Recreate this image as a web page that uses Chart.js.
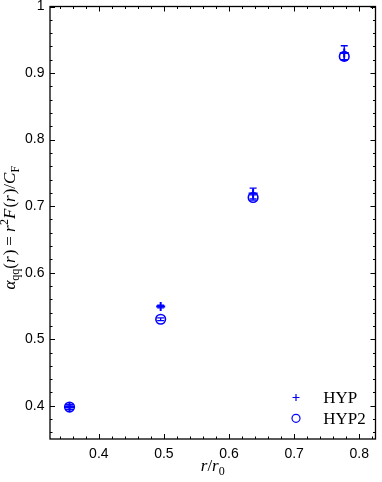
<!DOCTYPE html>
<html>
<head>
<meta charset="utf-8">
<script src="https://cdn.jsdelivr.net/npm/chart.js@4.4.0/dist/chart.umd.min.js"></script>
<style>
html,body{margin:0;padding:0;background:#fff;}
canvas{display:block;}
</style>
</head>
<body>
<canvas id="c" width="382" height="482"></canvas>
<script>
// ---- data ----
const xVals   = [0.355, 0.495, 0.637, 0.777];
const hypY    = [0.398, 0.549, 0.719, 0.930];
const hypErr  = [0.004, 0.002, 0.008, 0.011];
const hyp2Y   = [0.398, 0.530, 0.713, 0.925];
const hyp2Err = [0.003, 0.002, 0.004, 0.005];
const xTicks  = [0.4, 0.5, 0.6, 0.7, 0.8];
const yTicks  = [0.4, 0.5, 0.6, 0.7, 0.8, 0.9, 1];
const seriesNames = ['HYP', 'HYP2'];
const xRange = [0.325, 0.825];
const yRange = [0.35, 1.0];
const minorStep = 0.02;

const BLUE = '#0000ff';
const SERIF = '"Liberation Serif", "DejaVu Serif", serif';
const SANS = '"Liberation Sans", Arial, sans-serif';

function pts(ys){ return xVals.map((x,i)=>({x:x, y:ys[i]})); }

function drawRich(ctx, pieces, x, y){
  let w = 0;
  pieces.forEach(p=>{ ctx.font = p.f; w += ctx.measureText(p.t).width + (p.gap||0); });
  let cx = x - w/2;
  ctx.textBaseline = 'alphabetic';
  ctx.textAlign = 'left';
  pieces.forEach(p=>{
    ctx.font = p.f;
    ctx.fillText(p.t, cx, y + (p.dy||0));
    cx += ctx.measureText(p.t).width + (p.gap||0);
  });
}

const decor = {
  id: 'decor',
  beforeDatasetsDraw(chart){
    const ctx = chart.ctx, xs = chart.scales.x, ys = chart.scales.y;
    ctx.save();
    ctx.strokeStyle = BLUE;
    ctx.lineWidth = 1.3;
    [[hypY, hypErr],[hyp2Y, hyp2Err]].forEach(([vals, errs])=>{
      vals.forEach((v,i)=>{
        const px = xs.getPixelForValue(xVals[i]);
        const y1 = ys.getPixelForValue(v - errs[i]);
        const y2 = ys.getPixelForValue(v + errs[i]);
        ctx.beginPath();
        ctx.moveTo(px, y1); ctx.lineTo(px, y2);
        ctx.moveTo(px-3.5, y1); ctx.lineTo(px+3.5, y1);
        ctx.moveTo(px-3.5, y2); ctx.lineTo(px+3.5, y2);
        ctx.stroke();
      });
    });
    ctx.restore();
  },
  afterDraw(chart){
    const ctx = chart.ctx, a = chart.chartArea, xs = chart.scales.x, ys = chart.scales.y;
    ctx.save();
    // box
    ctx.strokeStyle = '#000';
    ctx.lineWidth = 1.3;
    ctx.strokeRect(a.left, a.top, a.right - a.left, a.bottom - a.top);
    // ticks (inside, all four sides)
    ctx.lineWidth = 1;
    ctx.beginPath();
    const nx = Math.round((xRange[1]-xRange[0])/minorStep)+2;
    for (let k=0;k<nx;k++){
      const v = Math.ceil(xRange[0]/minorStep)*minorStep + k*minorStep;
      if (v > xRange[1]+1e-9) break;
      const major = xTicks.some(t=>Math.abs(t-v)<1e-6);
      const L = major ? 5 : 2.5;
      const p = Math.round(xs.getPixelForValue(v))+0.5;
      ctx.moveTo(p, a.bottom); ctx.lineTo(p, a.bottom - L);
      ctx.moveTo(p, a.top); ctx.lineTo(p, a.top + L);
    }
    const ny = Math.round((yRange[1]-yRange[0])/minorStep)+2;
    for (let k=0;k<ny;k++){
      const v = Math.ceil(yRange[0]/minorStep-1e-9)*minorStep + k*minorStep;
      if (v > yRange[1]+1e-9) break;
      const major = yTicks.some(t=>Math.abs(t-v)<1e-6);
      const L = major ? 5 : 2.5;
      const p = Math.round(ys.getPixelForValue(v))+0.5;
      ctx.moveTo(a.left, p); ctx.lineTo(a.left + L, p);
      ctx.moveTo(a.right, p); ctx.lineTo(a.right - L, p);
    }
    ctx.stroke();

    // axis titles
    ctx.fillStyle = '#000';
    const S = 17;
    const it = 'italic ' + S + 'px ' + SERIF;
    const rm = S + 'px ' + SERIF;
    const sb = Math.round(S*0.7) + 'px ' + SERIF;
    drawRich(ctx, [
      {t:'r', f:it}, {t:'/', f:rm}, {t:'r', f:it}, {t:'0', f:sb, dy:3.5}
    ], (a.left+a.right)/2, 471);

    const S2 = 17;
    const it2 = 'italic ' + S2 + 'px ' + SERIF;
    const rm2 = S2 + 'px ' + SERIF;
    const sb2 = Math.round(S2*0.7) + 'px ' + SERIF;
    ctx.save();
    ctx.translate(15, (a.top+a.bottom)/2 + 5);
    ctx.rotate(-Math.PI/2);
    drawRich(ctx, [
      {t:'α', f:it2}, {t:'qq', f:sb2, dy:3.5}, {t:'(', f:rm2}, {t:'r', f:it2, gap:1}, {t:')', f:rm2, gap:4},
      {t:'=', f:rm2, gap:4}, {t:'r', f:it2, gap:0.5}, {t:'2', f:sb2, dy:-7}, {t:'F', f:it2, gap:1},
      {t:'(', f:rm2}, {t:'r', f:it2, gap:1}, {t:')', f:rm2}, {t:'/', f:rm2},
      {t:'C', f:it2}, {t:'F', f:sb2, dy:3.5}
    ], 0, 0);
    ctx.restore();

    // legend
    ctx.strokeStyle = BLUE;
    ctx.lineWidth = 1.2;
    ctx.beginPath();
    ctx.moveTo(292.5, 397.5); ctx.lineTo(299.5, 397.5);
    ctx.moveTo(296, 394); ctx.lineTo(296, 401);
    ctx.stroke();
    ctx.beginPath();
    ctx.arc(296, 418.3, 4, 0, Math.PI*2);
    ctx.stroke();
    ctx.fillStyle = '#000';
    ctx.font = '17px ' + SERIF;
    ctx.textAlign = 'left';
    ctx.textBaseline = 'alphabetic';
    ctx.fillText(seriesNames[0], 323.3, 403.3);
    ctx.fillText(seriesNames[1], 323.3, 424.3);
    ctx.restore();
  }
};

new Chart(document.getElementById('c'), {
  type: 'scatter',
  data: {
    datasets: [
      { label: seriesNames[0], data: pts(hypY), pointStyle: 'cross', pointRadius: 4.5,
        borderColor: BLUE, backgroundColor: BLUE, pointBorderWidth: 2, pointHoverRadius: 4.5 },
      { label: seriesNames[1], data: pts(hyp2Y), pointStyle: 'circle', pointRadius: 4.8,
        borderColor: BLUE, backgroundColor: 'rgba(0,0,0,0)', pointBorderWidth: 1.6, pointHoverRadius: 4.8 }
    ]
  },
  options: {
    responsive: false,
    animation: false,
    devicePixelRatio: 1,
    layout: { padding: { top: 5, right: 1, left: 0, bottom: 0 } },
    plugins: { legend: { display: false }, tooltip: { enabled: false } },
    events: [],
    scales: {
      x: {
        type: 'linear', min: xRange[0], max: xRange[1],
        grid: { display: false, drawTicks: false },
        border: { display: false },
        afterBuildTicks: s => { s.ticks = xTicks.map(v=>({value:v})); },
        afterFit: s => { s.height = 43; s.paddingLeft = 0; s.paddingRight = 0; },
        ticks: { padding: 7, color: '#000', font: { family: SANS, size: 14 },
                 maxRotation: 0, callback: v => (v===1?'1':v.toFixed(1)) }
      },
      y: {
        type: 'linear', min: yRange[0], max: yRange[1],
        grid: { display: false, drawTicks: false },
        border: { display: false },
        afterBuildTicks: s => { s.ticks = yTicks.map(v=>({value:v})); },
        afterFit: s => { s.width = 50; s.paddingTop = 0; s.paddingBottom = 0; },
        ticks: { padding: 5.5, color: '#000', font: { family: SANS, size: 14 },
                 callback: v => (Math.abs(v-1)<1e-9?'1':v.toFixed(1)) }
      }
    }
  },
  plugins: [decor]
});
</script>
</body>
</html>
